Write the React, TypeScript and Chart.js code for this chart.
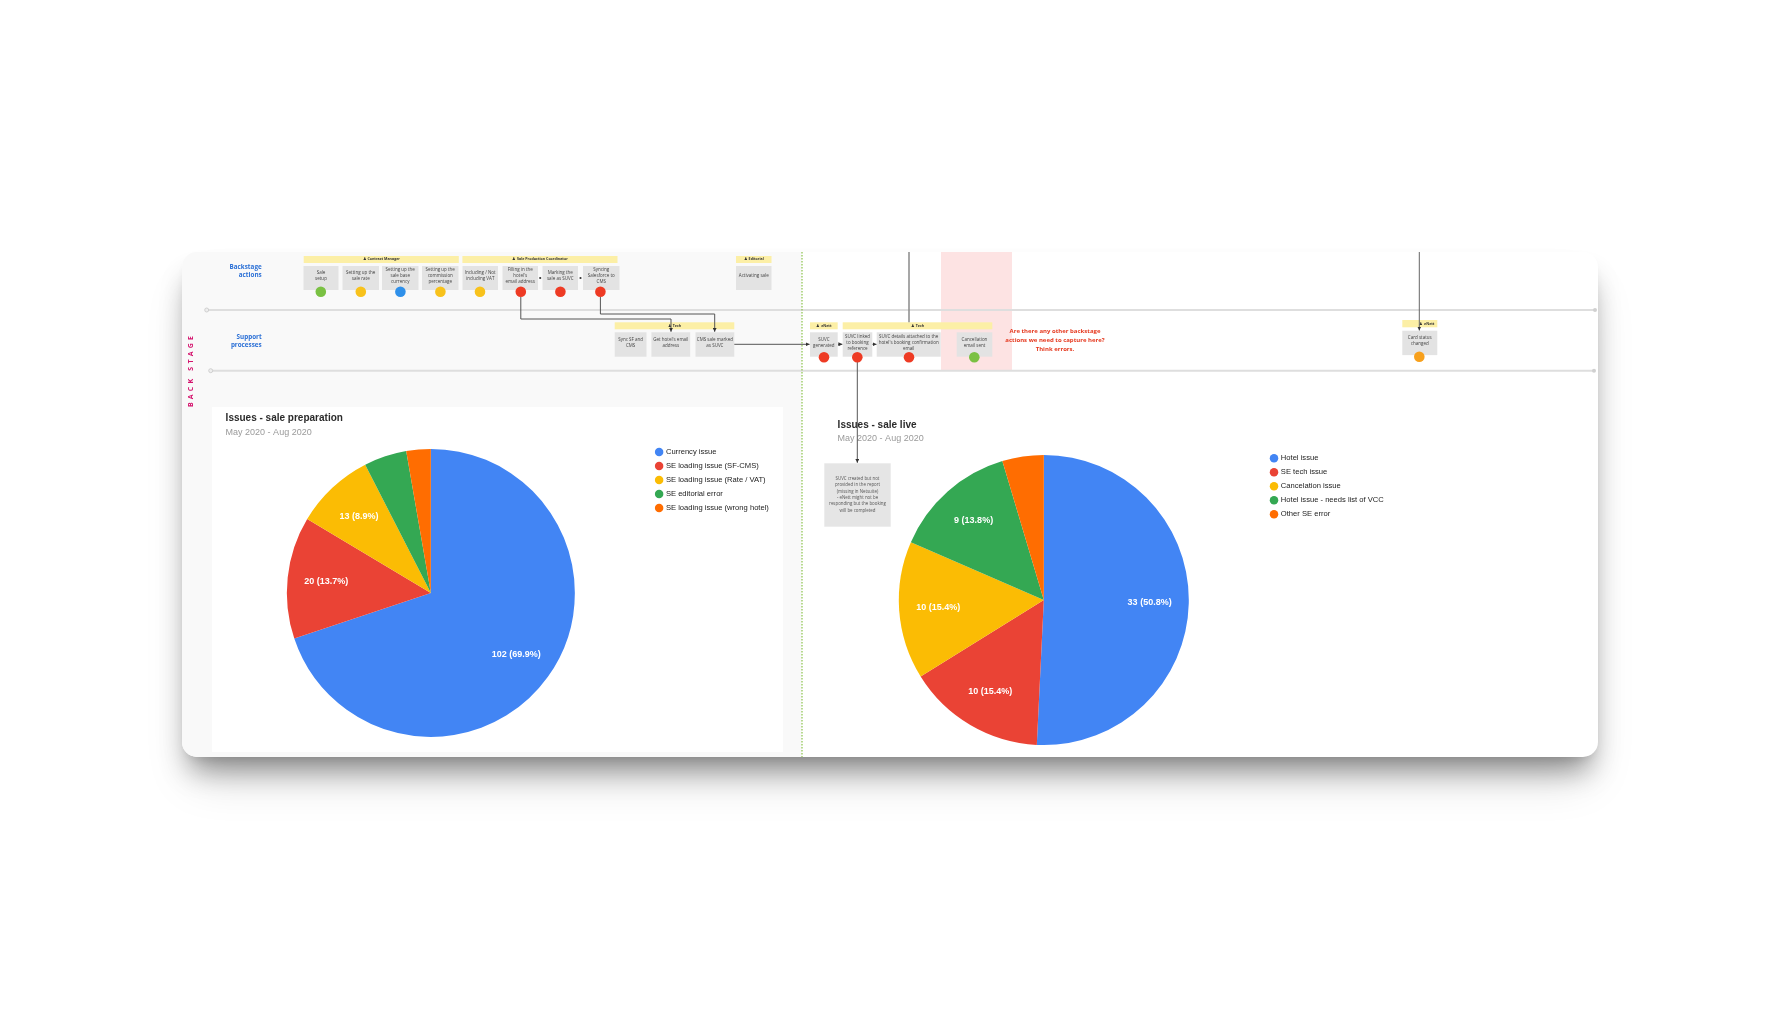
import React, { useEffect, useRef } from "react";
import { Chart, registerables } from "chart.js";

Chart.register(...registerables);

// ---------- data ----------
const prepTitle = "Issues - sale preparation";
const prepLabels = [
  "Currency issue",
  "SE loading issue (SF-CMS)",
  "SE loading issue (Rate / VAT)",
  "SE editorial error",
  "SE loading issue (wrong hotel)",
];
const prepValues = [102, 20, 13, 7, 4];

const liveTitle = "Issues - sale live";
const liveLabels = [
  "Hotel issue",
  "SE tech issue",
  "Cancelation issue",
  "Hotel issue - needs list of VCC",
  "Other SE error",
];
const liveValues = [33, 10, 10, 9, 3];

const periodLabel = "May 2020 - Aug 2020";
const sliceColors = ["#4285F4", "#EA4335", "#FBBC04", "#34A853", "#FF6D01"];

const CHART_FONT = 'Arial, "Liberation Sans", sans-serif';
const BP_FONT = '"Open Sans", "Liberation Sans", sans-serif';

// ---------- plugins ----------
const sliceLabelPlugin = {
  id: "sliceLabels",
  afterDatasetsDraw(chart: any, _args: any, opts: any) {
    const ctx = chart.ctx;
    const vals = chart.data.datasets[0].data as number[];
    const total = vals.reduce((a, b) => a + b, 0);
    const meta = chart.getDatasetMeta(0);
    ctx.save();
    ctx.font = `bold ${opts.fontSize || 9}px ${CHART_FONT}`;
    ctx.fillStyle = "#ffffff";
    ctx.textAlign = "center";
    ctx.textBaseline = "middle";
    meta.data.forEach((arc: any, i: number) => {
      const v = vals[i];
      const frac = v / total;
      if (frac < (opts.minFraction ?? 0.06)) return;
      const p = arc.getProps(["x", "y", "startAngle", "endAngle", "outerRadius"], true);
      const mid = (p.startAngle + p.endAngle) / 2;
      const r = p.outerRadius * (opts.radiusRatio ?? 0.73);
      ctx.fillText(`${v} (${(frac * 100).toFixed(1)}%)`, p.x + Math.cos(mid) * r, p.y + Math.sin(mid) * r);
    });
    ctx.restore();
  },
};

// indents the title / subtitle blocks (Google-chart style titles sit inside the plot's left edge)
const titleIndentPlugin = {
  id: "titleIndent",
  afterLayout(chart: any, _args: any, opts: any) {
    const dx = opts.dx || 0;
    (chart.boxes || []).forEach((b: any) => {
      if (b !== chart.legend && b.options && typeof b.options.text === "string") {
        b.left += dx;
        b.right += dx;
      }
    });
  },
};

type Cfg = {
  labels: string[];
  values: number[];
  title: string;
  radius: number;
  padRight: number;
  subPadTop: number;
  subPadBottom: number;
  indent: number;
};

const makeConfig = (p: Cfg): any => ({
  type: "pie",
  data: {
    labels: p.labels,
    datasets: [
      {
        data: p.values,
        backgroundColor: sliceColors,
        borderWidth: 0,
        radius: p.radius,
      },
    ],
  },
  options: {
    responsive: false,
    maintainAspectRatio: false,
    animation: false,
    devicePixelRatio: 1,
    events: [],
    layout: { padding: { left: 0, top: 4, right: p.padRight, bottom: 0 } },
    plugins: {
      title: {
        display: true,
        text: p.title,
        align: "start",
        color: "#2b2b2b",
        font: { size: 10, weight: "bold", family: CHART_FONT, lineHeight: 1.2 },
        padding: { top: 2, bottom: 0 },
      },
      subtitle: {
        display: true,
        text: periodLabel,
        align: "start",
        color: "#9a9a9a",
        font: { size: 9, family: CHART_FONT, lineHeight: 1.2 },
        padding: { top: p.subPadTop, bottom: p.subPadBottom },
      },
      legend: {
        display: true,
        position: "right",
        align: "start",
        fullSize: false,
        labels: {
          usePointStyle: true,
          pointStyle: "circle",
          boxWidth: 6,
          boxHeight: 6,
          padding: 6.4,
          color: "#222222",
          font: { size: 7.6, family: CHART_FONT },
        },
      },
      tooltip: { enabled: false },
      sliceLabels: { radiusRatio: 0.73, minFraction: 0.06, fontSize: 9 },
      titleIndent: { dx: p.indent },
    },
  },
  plugins: [sliceLabelPlugin, titleIndentPlugin],
});

function PieChart(props: { left: number; top: number; width: number; height: number; cfg: Cfg }) {
  const ref = useRef<HTMLCanvasElement | null>(null);
  useEffect(() => {
    const chart = new Chart(ref.current as HTMLCanvasElement, makeConfig(props.cfg));
    return () => chart.destroy();
  }, []);
  return (
    <div style={{ position: "absolute", left: props.left, top: props.top, width: props.width, height: props.height }}>
      <canvas
        ref={ref}
        width={props.width}
        height={props.height}
        style={{ display: "block", width: props.width, height: props.height }}
      />
    </div>
  );
}

// ---------- blueprint decoration ----------
type BoxSpec = { x: number; y: number; w: number; h: number; lines: string[] };

function BpBox({ x, y, w, h, lines }: BoxSpec) {
  const lh = 5.8;
  const cy = y + (h - 4) / 2;
  const y0 = cy - ((lines.length - 1) * lh) / 2;
  return (
    <g>
      <rect x={x} y={y} width={w} height={h} fill="#e3e3e3" />
      <text fontFamily={BP_FONT} fontSize={4.5} fill="#444" textAnchor="middle">
        {lines.map((l, i) => (
          <tspan key={i} x={x + w / 2} y={y0 + i * lh} dominantBaseline="middle">
            {l}
          </tspan>
        ))}
      </text>
    </g>
  );
}

function RoleBar({ x, y, w, h, label, dx = 0 }: { x: number; y: number; w: number; h: number; label: string; dx?: number }) {
  return (
    <g>
      <rect x={x} y={y} width={w} height={h} fill="#fcefa6" />
      <text
        x={x + w / 2 + dx}
        y={y + h / 2}
        fontFamily={BP_FONT}
        fontSize={3.6}
        fontWeight="bold"
        fill="#333"
        textAnchor="middle"
        dominantBaseline="middle"
      >
        {"\u265F " + label}
      </text>
    </g>
  );
}

const row1Boxes: BoxSpec[] = [
  { x: 303.5, y: 266, w: 35, h: 24, lines: ["Sale", "setup"] },
  { x: 342.5, y: 266, w: 36.5, h: 24, lines: ["Setting up the", "sale rate"] },
  { x: 382, y: 266, w: 36.5, h: 24, lines: ["Setting up the", "sale base", "currency"] },
  { x: 422, y: 266, w: 36.5, h: 24, lines: ["Setting up the", "commission", "percentage"] },
  { x: 462.5, y: 266, w: 35.5, h: 24, lines: ["Including / Not", "including VAT"] },
  { x: 502.5, y: 266, w: 35.5, h: 24, lines: ["Filling in the", "hotel's", "email address"] },
  { x: 542.5, y: 266, w: 35.5, h: 24, lines: ["Marking the", "sale as SUVC"] },
  { x: 583, y: 266, w: 36.5, h: 24, lines: ["Syncing", "Salesforce to", "CMS"] },
  { x: 736, y: 266, w: 35.5, h: 24, lines: ["Activating sale"] },
];

const row2Boxes: BoxSpec[] = [
  { x: 614.7, y: 332.3, w: 31.8, h: 24.4, lines: ["Sync SF and", "CMS"] },
  { x: 651.4, y: 332.3, w: 38.8, h: 24.4, lines: ["Get hotel's email", "address"] },
  { x: 695.5, y: 332.3, w: 38.8, h: 24.4, lines: ["CMS sale marked", "as SUVC"] },
  { x: 810, y: 332.3, w: 27.7, h: 24.4, lines: ["SUVC", "generated"] },
  { x: 842.7, y: 332.3, w: 29.6, h: 24.4, lines: ["SUVC linked", "to booking", "reference"] },
  { x: 876.7, y: 332.3, w: 64, h: 24.4, lines: ["SUVC details attached to the", "hotel's booking confirmation", "email"] },
  { x: 956.7, y: 332.3, w: 35.6, h: 24.4, lines: ["Cancellation", "email sent"] },
  { x: 1402.3, y: 330.7, w: 35, h: 24.4, lines: ["Card status", "changed"] },
];

const GREEN = "#7ac143";
const YELLOW = "#f8c21c";
const BLUE = "#2f90ea";
const RED = "#ee3b24";
const ORANGE = "#f7a01c";

const dots: { x: number; y: number; c: string }[] = [
  { x: 320.8, y: 291.7, c: GREEN },
  { x: 360.8, y: 291.7, c: YELLOW },
  { x: 400.4, y: 291.7, c: BLUE },
  { x: 440.4, y: 291.7, c: YELLOW },
  { x: 480, y: 291.7, c: YELLOW },
  { x: 520.8, y: 291.7, c: RED },
  { x: 560.4, y: 291.7, c: RED },
  { x: 600.4, y: 291.7, c: RED },
  { x: 824, y: 357.3, c: RED },
  { x: 857.3, y: 357.3, c: RED },
  { x: 909, y: 357.3, c: RED },
  { x: 974.3, y: 357.3, c: GREEN },
  { x: 1419.3, y: 356.7, c: ORANGE },
];

const noteLines = [
  "SUVC created but not",
  "provided in the report",
  "(missing in Netsuite)",
  "- eNett might not be",
  "responding but the booking",
  "will be completed",
];

function Decor() {
  return (
    <svg
      width={1782}
      height={1012}
      style={{ position: "absolute", left: 0, top: 0, pointerEvents: "none" }}
    >
      <defs>
        <marker id="ah" markerWidth="4" markerHeight="4" refX="4" refY="2" orient="auto" markerUnits="userSpaceOnUse">
          <path d="M0,0 L4,2 L0,4 z" fill="#333" />
        </marker>
      </defs>

      {/* pink highlight */}
      <rect x={941} y={252} width={71} height={118.7} fill="#fde3e3" />

      {/* lane separators */}
      <line x1={206.7} y1={310} x2={1595} y2={310} stroke="#dedede" strokeWidth={2} />
      <line x1={210.7} y1={370.7} x2={1594} y2={370.7} stroke="#dedede" strokeWidth={2} />
      <circle cx={206.7} cy={310} r={2} fill="#eee" stroke="#c8c8c8" strokeWidth={0.8} />
      <circle cx={210.7} cy={370.7} r={2} fill="#eee" stroke="#c8c8c8" strokeWidth={0.8} />
      <circle cx={1595} cy={310} r={2} fill="#d0d0d0" />
      <circle cx={1594} cy={370.7} r={2} fill="#d0d0d0" />

      {/* line of visibility */}
      <line x1={802} y1={252} x2={802} y2={757} stroke="#8bc34a" strokeWidth={1.2} strokeDasharray="1.5 1.5" />

      {/* lane labels */}
      <text transform="translate(191,370) rotate(-90)" fontFamily={BP_FONT} fontSize={7} fontWeight="bold" fill="#d4136d" textAnchor="middle" dominantBaseline="middle" letterSpacing={3.2}>
        BACK STAGE
      </text>
      <text fontFamily={BP_FONT} fontSize={6.3} fontWeight="bold" fill="#2b70d6" textAnchor="end">
        <tspan x={261.7} y={267.7} dominantBaseline="middle">Backstage</tspan>
        <tspan x={261.7} y={275.7} dominantBaseline="middle">actions</tspan>
      </text>
      <text fontFamily={BP_FONT} fontSize={6.3} fontWeight="bold" fill="#2b70d6" textAnchor="end">
        <tspan x={261.7} y={337} dominantBaseline="middle">Support</tspan>
        <tspan x={261.7} y={345.7} dominantBaseline="middle">processes</tspan>
      </text>

      {/* role bars */}
      <RoleBar x={303.7} y={256} w={155.1} h={7} label="Contract Manager" />
      <RoleBar x={462.4} y={256} w={155.1} h={7} label="Sale Production Coordinator" />
      <RoleBar x={736} y={256} w={35.5} h={7} label="Editorial" />
      <RoleBar x={614.7} y={322.3} w={119.6} h={7} label="Tech" />
      <RoleBar x={810} y={322.3} w={27.7} h={7} label="eNett" />
      <RoleBar x={842.7} y={322.3} w={149.6} h={7} label="Tech" />
      <RoleBar x={1402.3} y={320} w={35} h={7.3} label="eNett" dx={7} />

      {/* boxes */}
      {row1Boxes.map((b, i) => (
        <BpBox key={"r1" + i} {...b} />
      ))}
      {row2Boxes.map((b, i) => (
        <BpBox key={"r2" + i} {...b} />
      ))}

      {/* connectors */}
      <line x1={909} y1={252} x2={909} y2={322.3} stroke="#8a8a8a" strokeWidth={1.5} />
      <line x1={1419.3} y1={252} x2={1419.3} y2={330.5} stroke="#666" strokeWidth={1} markerEnd="url(#ah)" />
      <polyline points="520.8,297 520.8,319 671,319 671,331.8" fill="none" stroke="#555" strokeWidth={1} markerEnd="url(#ah)" />
      <polyline points="600.4,297 600.4,314 714.7,314 714.7,331.8" fill="none" stroke="#555" strokeWidth={1} markerEnd="url(#ah)" />
      <line x1={734.3} y1={344.3} x2={809.6} y2={344.3} stroke="#555" strokeWidth={1} markerEnd="url(#ah)" />
      <line x1={838} y1={344.3} x2={842.4} y2={344.3} stroke="#333" strokeWidth={0.8} markerEnd="url(#ah)" />
      <line x1={872.4} y1={344.3} x2={876.5} y2={344.3} stroke="#333" strokeWidth={0.8} markerEnd="url(#ah)" />
      <circle cx={540.2} cy={278} r={1.1} fill="#333" />
      <circle cx={580.5} cy={278} r={1.1} fill="#333" />
      <line x1={857.3} y1={362} x2={857.3} y2={462.8} stroke="#555" strokeWidth={1} markerEnd="url(#ah)" />

      {/* status dots */}
      {dots.map((d, i) => (
        <circle key={"d" + i} cx={d.x} cy={d.y} r={5.3} fill={d.c} />
      ))}

      {/* question */}
      <text fontFamily={BP_FONT} fontSize={6} fontWeight="bold" fill="#e5391f" textAnchor="middle">
        <tspan x={1055} y={331.7} dominantBaseline="middle">Are there any other backstage</tspan>
        <tspan x={1055} y={340} dominantBaseline="middle">actions we need to capture here?</tspan>
        <tspan x={1055} y={349} dominantBaseline="middle">Think errors.</tspan>
      </text>

      {/* note */}
      <rect x={824.3} y={463.3} width={66.4} height={63.4} fill="#e5e5e5" />
      <text fontFamily={BP_FONT} fontSize={4.4} fill="#555" textAnchor="middle">
        {noteLines.map((l, i) => (
          <tspan key={i} x={857.5} y={479 + i * 6.3} dominantBaseline="middle">
            {l}
          </tspan>
        ))}
      </text>
    </svg>
  );
}

export default function App() {
  return (
    <div style={{ position: "absolute", left: 0, top: 0, width: 1782, height: 1012, background: "#ffffff", overflow: "hidden" }}>
      {/* card */}
      <div
        style={{
          position: "absolute",
          left: 182,
          top: 252,
          width: 1416,
          height: 505,
          borderRadius: 15,
          background: "#ffffff",
          boxShadow: "0 20px 28px -8px rgba(0,0,0,0.38), 0 30px 48px -12px rgba(0,0,0,0.18), 0 6px 10px -4px rgba(0,0,0,0.08)",
          overflow: "hidden",
        }}
      >
        <div style={{ position: "absolute", left: 0, top: 0, width: 620, height: 505, background: "#f9f9f9" }} />
      </div>
      {/* left chart panel */}
      <div style={{ position: "absolute", left: 212, top: 407, width: 571, height: 345, background: "#ffffff" }} />

      <PieChart
        left={212}
        top={406}
        width={571}
        height={338}
        cfg={{
          labels: prepLabels,
          values: prepValues,
          title: prepTitle,
          radius: 144,
          padRight: 4.1,
          subPadTop: 3,
          subPadBottom: 4.0,
          indent: 13.6,
        }}
      />
      <PieChart
        left={823}
        top={413}
        width={575}
        height={339}
        cfg={{
          labels: liveLabels,
          values: liveValues,
          title: liveTitle,
          radius: 145,
          padRight: 4.2,
          subPadTop: 2,
          subPadBottom: 4.3,
          indent: 14.6,
        }}
      />

      <Decor />
    </div>
  );
}
